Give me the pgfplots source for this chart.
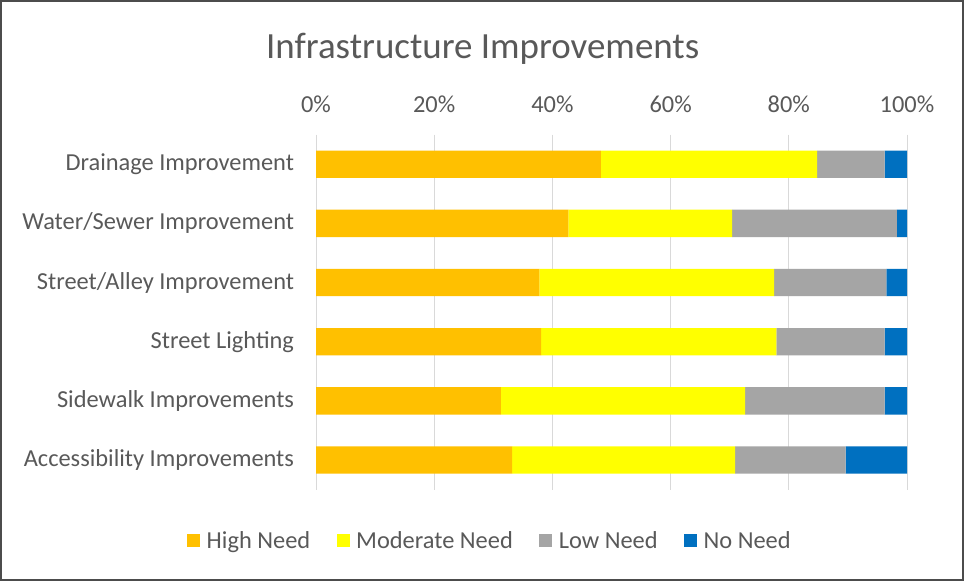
\documentclass[border=0pt]{standalone}
\usepackage{fontspec}
\setmainfont{Carlito}
\usepackage{pgfplots}
\pgfplotsset{compat=1.18}
\usepackage{pgfplotstable}

\definecolor{highneed}{HTML}{FFC000}
\definecolor{modneed}{HTML}{FFFF00}
\definecolor{lowneed}{HTML}{A5A5A5}
\definecolor{noneed}{HTML}{0070C0}
\definecolor{txtgray}{HTML}{595959}
\definecolor{gridgray}{HTML}{D9D9D9}

% share of answers per item, in percent
\pgfplotstableread{
pos high moderate low none
0   48.2 36.6 11.4 3.8
1   42.7 27.7 27.9 1.7
2   37.8 39.7 19.0 3.5
3   38.1 39.8 18.3 3.8
4   31.3 41.3 23.6 3.8
5   33.2 37.7 18.7 10.4
}\needs

\pgfplotsset{
  sqlegend/.style={legend image code/.code={\fill[##1] (0pt,-4.5pt) rectangle (9.5pt,5pt);}},
}

\begin{document}
\begin{tikzpicture}
\path[use as bounding box] (0pt,0pt) rectangle (723pt,435.75pt);
\fill[white] (0pt,0pt) rectangle (723pt,435.75pt);
\draw[black!70, line width=1.2pt] (0.6pt,0.6pt) rectangle (722.4pt,435.15pt);
\node[txtgray, font=\fontsize{27.7}{32}\selectfont] at (362pt,399.5pt) {Infrastructure Improvements};

\begin{axis}[
    at={(237pt,68.55pt)}, anchor=south west,
    scale only axis,
    width=443.25pt, height=266.25pt,
    xbar stacked,
    bar width=20.5pt,
    xmin=0, xmax=100,
    ymin=-0.5, ymax=5.5,
    y dir=reverse,
    axis line style={draw=none},
    major tick length=0pt,
    xmajorgrids=true,
    grid style={gridgray, line width=0.75pt},
    xtick={0,20,40,60,80,100},
    xticklabels={0\%,20\%,40\%,60\%,80\%,100\%},
    xticklabel pos=top,
    xticklabel style={yshift=13pt},
    ytick={0,1,2,3,4,5},
    yticklabels={Drainage Improvement, Water/Sewer Improvement, Street/Alley Improvement,
                 Street Lighting, Sidewalk Improvements, Accessibility Improvements},
    yticklabel style={xshift=-13pt},
    tick label style={txtgray, font=\fontsize{18.3}{22}\selectfont},
    sqlegend,
    legend columns=4,
    legend style={at={(0.295,-0.145)}, anchor=center, draw=none, fill=none,
                  text=txtgray, font=\fontsize{18.3}{22}\selectfont,
                  /tikz/every odd column/.append style={column sep=3pt},
                  /tikz/every even column/.append style={column sep=18pt}},
]
\addplot[fill=highneed, draw=none] table[x=high, y=pos] {\needs};
\addplot[fill=modneed, draw=none] table[x=moderate, y=pos] {\needs};
\addplot[fill=lowneed, draw=none] table[x=low, y=pos] {\needs};
\addplot[fill=noneed, draw=none] table[x=none, y=pos] {\needs};
\legend{High Need, Moderate Need, Low Need, No Need}
\end{axis}
\end{tikzpicture}
\end{document}
